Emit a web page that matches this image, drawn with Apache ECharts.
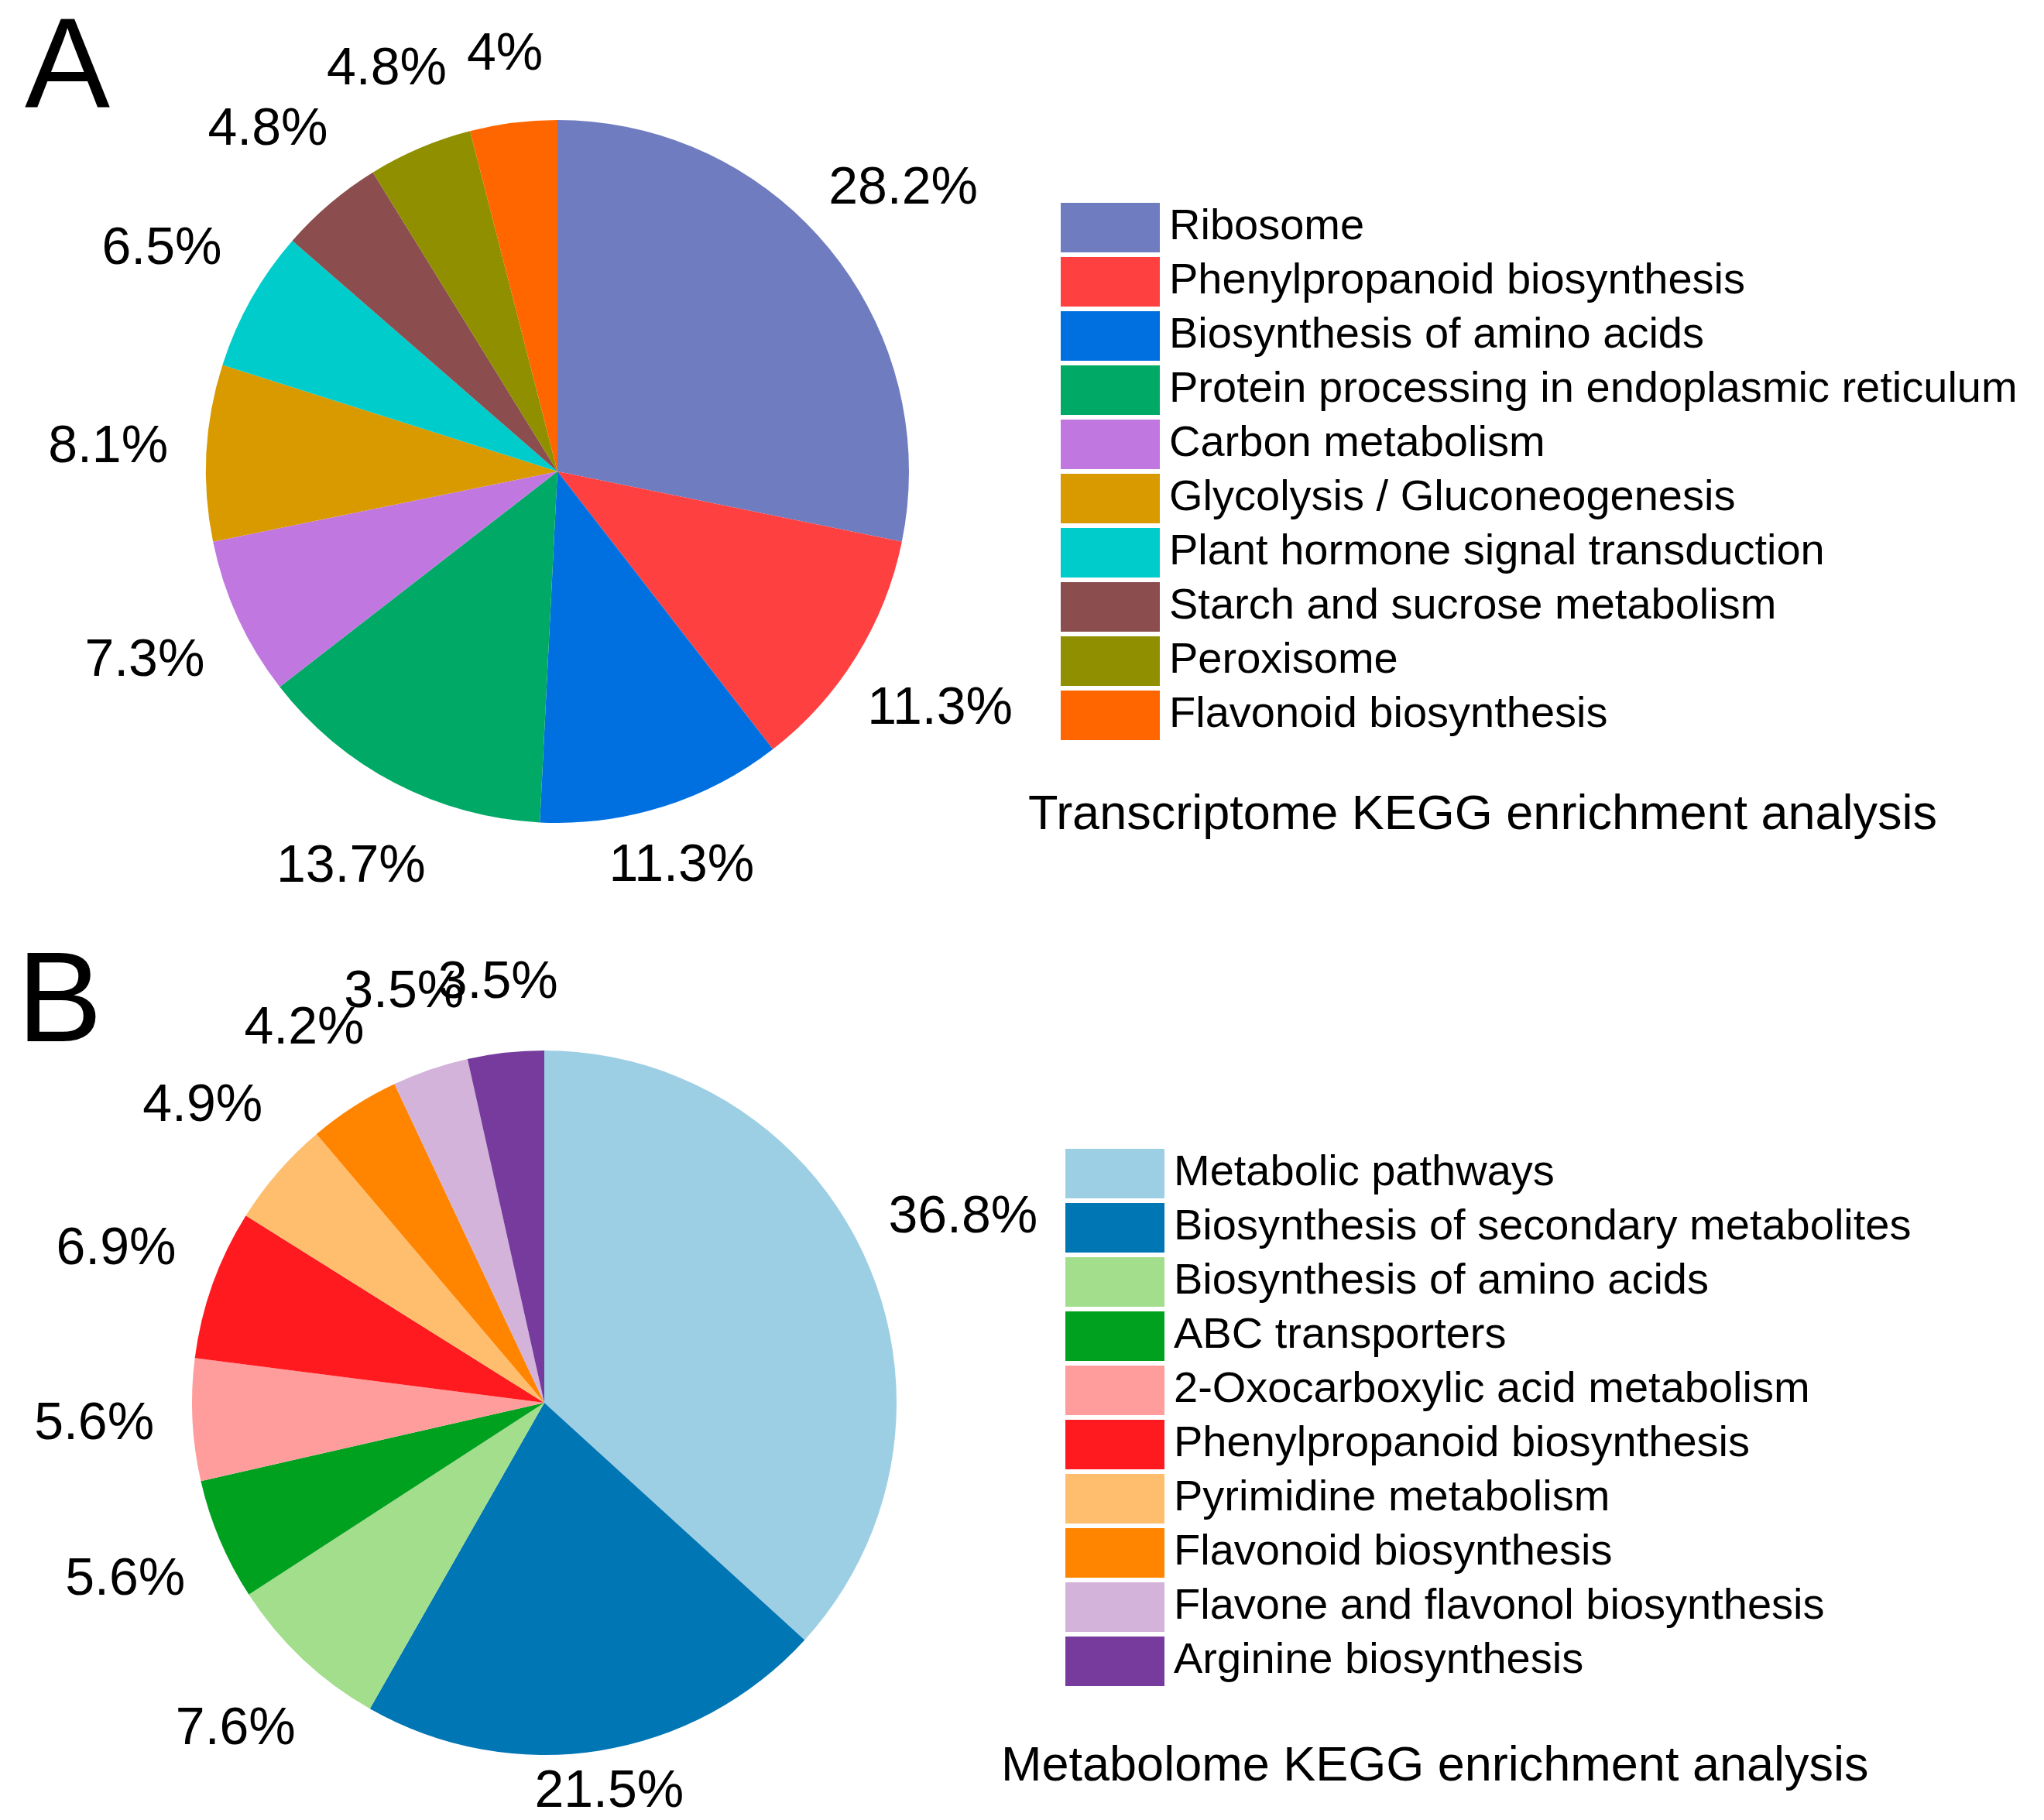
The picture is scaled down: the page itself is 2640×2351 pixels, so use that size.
<!DOCTYPE html>
<html>
<head>
<meta charset="utf-8">
<script src="https://cdn.jsdelivr.net/npm/echarts@6/dist/echarts.min.js"></script>
<style>
  html, body { margin: 0; padding: 0; background: #fff; }
  #panelA { position: absolute; left: 0; top: 0; width: 2640px; height: 1195px; }
  #panelB { position: absolute; left: 0; top: 1195px; width: 2640px; height: 1156px; }
</style>
</head>
<body>
<div id="panelA"></div>
<div id="panelB"></div>
<script>
// ---------- data ----------
const transcriptomeNames = [
  'Ribosome',
  'Phenylpropanoid biosynthesis',
  'Biosynthesis of amino acids',
  'Protein processing in endoplasmic reticulum',
  'Carbon metabolism',
  'Glycolysis / Gluconeogenesis',
  'Plant hormone signal transduction',
  'Starch and sucrose metabolism',
  'Peroxisome',
  'Flavonoid biosynthesis'
];
const transcriptomeValues = [28.2, 11.3, 11.3, 13.7, 7.3, 8.1, 6.5, 4.8, 4.8, 4];
const transcriptomeColors = ['#6f7dc0', '#ff4040', '#0070e0', '#00aa66', '#c078e0',
                             '#d99a00', '#00cccc', '#8b4d4d', '#8f8f00', '#ff6600'];

const metabolomeNames = [
  'Metabolic pathways',
  'Biosynthesis of secondary metabolites',
  'Biosynthesis of amino acids',
  'ABC transporters',
  '2-Oxocarboxylic acid metabolism',
  'Phenylpropanoid biosynthesis',
  'Pyrimidine metabolism',
  'Flavonoid biosynthesis',
  'Flavone and flavonol biosynthesis',
  'Arginine biosynthesis'
];
const metabolomeValues = [36.8, 21.5, 7.6, 5.6, 5.6, 6.9, 4.9, 4.2, 3.5, 3.5];
const metabolomeColors = ['#9dcfe4', '#0076b4', '#a2de8c', '#00a11f', '#ff9c9c',
                          '#ff1a1f', '#ffbe6e', '#ff8400', '#d3b3da', '#763b9d'];

const FONT = '"Liberation Sans", Arial, Helvetica, sans-serif';

// labels sit just outside the rim, centred on the slice direction
function outsideEnd(values, cx, cy, r, gap, height) {
  const total = values.reduce((a, b) => a + b, 0);
  const mids = [];
  let acc = 0;
  values.forEach(v => { mids.push((acc + v / 2) / total * Math.PI * 2); acc += v; });
  return function (p) {
    const a = mids[p.dataIndex];
    const sx = Math.sin(a), sy = -Math.cos(a);
    const hw = p.labelRect.width / 2, hh = p.labelRect.height / 2;
    const ox = hw * Math.abs(sx), oy = hh * Math.abs(sy);
    // left-hand labels in the figure sit a bit further out than right-hand ones
    const d = r + gap + (sx < 0 ? ox + oy : Math.max(ox, oy));
    let y = cy + d * sy;
    y = Math.min(y, height - hh - 2);
    return { x: cx + d * sx, y: y, align: 'center', verticalAlign: 'middle' };
  };
}

function buildPanel(el, cfg) {
  const chart = echarts.init(el, null, { renderer: 'canvas' });
  const h = el.clientHeight;
  chart.setOption({
    backgroundColor: '#fff',
    animation: false,
    legend: {
      orient: 'vertical',
      left: cfg.legendLeft,
      top: cfg.legendTop,
      itemWidth: 128,
      itemHeight: 64,
      itemGap: 6,
      icon: 'rect',
      selectedMode: false,
      data: cfg.names,
      textStyle: { fontSize: 56, color: '#000', fontFamily: FONT, lineHeight: 64, padding: [0, 0, 0, 7] }
    },
    graphic: [
      {
        type: 'text', x: cfg.letterX, y: cfg.letterY,
        style: { text: cfg.letter, font: '165px ' + FONT, fill: '#000', verticalAlign: 'middle' }
      },
      {
        type: 'text', x: cfg.titleX, y: cfg.titleY,
        style: { text: cfg.title, font: '63px ' + FONT, fill: '#000', verticalAlign: 'middle' }
      }
    ],
    series: [{
      type: 'pie',
      center: [cfg.cx, cfg.cy],
      radius: cfg.r,
      startAngle: 90,
      clockwise: true,
      avoidLabelOverlap: false,
      emphasis: { disabled: true },
      itemStyle: { borderWidth: 0 },
      label: {
        show: true,
        position: 'outside',
        formatter: p => p.value + '%',
        fontSize: 68,
        fontFamily: FONT,
        color: '#000'
      },
      labelLine: { show: false },
      labelLayout: outsideEnd(cfg.values, cfg.cx, cfg.cy, cfg.r, 48, h),
      data: cfg.names.map((n, i) => ({ name: n, value: cfg.values[i], itemStyle: { color: cfg.colors[i] } }))
    }]
  });
  return chart;
}

buildPanel(document.getElementById('panelA'), {
  names: transcriptomeNames, values: transcriptomeValues, colors: transcriptomeColors,
  cx: 720, cy: 609, r: 454,
  legendLeft: 1365, legendTop: 257,
  letter: 'A', letterX: 32, letterY: 92,
  title: 'Transcriptome KEGG enrichment analysis', titleX: 1328, titleY: 1054
});

buildPanel(document.getElementById('panelB'), {
  names: metabolomeNames, values: metabolomeValues, colors: metabolomeColors,
  cx: 703, cy: 617, r: 455,
  legendLeft: 1371, legendTop: 284,
  letter: 'B', letterX: 22, letterY: 104,
  title: 'Metabolome KEGG enrichment analysis', titleX: 1293, titleY: 1088
});
</script>
</body>
</html>
